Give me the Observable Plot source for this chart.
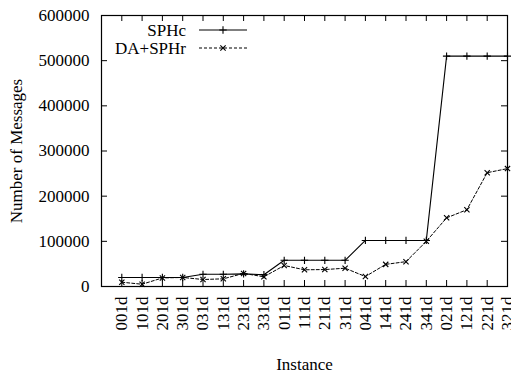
<!DOCTYPE html>
<html><head><meta charset="utf-8">
<script src="https://cdn.jsdelivr.net/npm/d3@7"></script>
<script src="https://cdn.jsdelivr.net/npm/@observablehq/plot@0.6"></script>
<style>
body{margin:0;background:#fff;}
#chart{position:relative;width:511px;height:378px;}
#legend{position:absolute;left:0;top:0;}
</style></head><body><div id="chart"></div>
<script>
const instances = ["001d","101d","201d","301d","031d","131d","231d","331d","011d","111d","211d","311d","041d","141d","241d","341d","021d","121d","221d","321d"];
const sphc =   [20000,20000,20000,20000,27000,27000,28000,26000,58000,58000,58000,58000,102000,102000,102000,102000,510000,510000,510000,510000];
const dasphr = [9500,5000,19000,20000,15500,17000,29000,21500,46500,37000,37500,40500,22000,49000,55000,100000,152000,170000,252000,261000];
const yTicks = [0,100000,200000,300000,400000,500000,600000];
const seriesNames = ["SPHc","DA+SPHr"];

const idx = instances.map((_, i) => i);
const rowsA = idx.map(i => ({i, v: sphc[i]}));
const rowsB = idx.map(i => ({i, v: dasphr[i]}));

const W = 511, H = 378, mL = 101, mR = 4, mT = 15, mB = 92;
const iw = W - mL - mR, ih = H - mT - mB, tk = 6;
const font = "Liberation Serif, Times New Roman, serif";

const chart = Plot.plot({
  width: W, height: H,
  marginLeft: mL, marginRight: mR, marginTop: mT, marginBottom: mB,
  style: {fontFamily: font, fontSize: "17px", color: "#000", background: "#fff"},
  x: {type: "linear", domain: [-1, instances.length - 1]},
  y: {domain: [0, 600000]},
  marks: [
    Plot.axisX(idx, {anchor: "bottom", tickSize: 0, tickPadding: 10, tickRotate: -90,
      tickFormat: i => instances[i], fontSize: 17,
      label: "Instance", labelAnchor: "center", labelOffset: 83, labelArrow: "none"}),
    Plot.axisY(yTicks, {anchor: "left", tickSize: 0, tickPadding: 12, tickFormat: d => String(d), fontSize: 17,
      label: "Number of Messages", labelAnchor: "center", labelOffset: 92, labelArrow: "none"}),
    Plot.tickX(idx, {x: d => d, insetTop: ih - tk, stroke: "#000"}),
    Plot.tickX(idx, {x: d => d, insetBottom: ih - tk, stroke: "#000"}),
    Plot.tickY(yTicks, {y: d => d, insetRight: iw - tk, stroke: "#000"}),
    Plot.tickY(yTicks, {y: d => d, insetLeft: iw - tk, stroke: "#000"}),
    Plot.line(rowsB, {x: "i", y: "v", stroke: "#000", strokeWidth: 1, strokeDasharray: "3,2"}),
    Plot.dot(rowsB, {x: "i", y: "v", symbol: "times", r: 2.5, stroke: "#000", strokeWidth: 1.1}),
    Plot.line(rowsA, {x: "i", y: "v", stroke: "#000", strokeWidth: 1.1}),
    Plot.dot(rowsA, {x: "i", y: "v", symbol: "plus", r: 2.5, stroke: "#000", strokeWidth: 1.1}),
    Plot.frame({stroke: "#000", strokeWidth: 1.2})
  ]
});
const host = document.getElementById("chart");
host.appendChild(chart);

// legend overlay
const lg = d3.select(host).append("svg").attr("id", "legend").attr("width", W).attr("height", 70)
  .style("font-family", font).style("font-size", "17px");
const items = [
  {name: seriesNames[0], dash: null, sym: d3.symbolPlus, y: 30},
  {name: seriesNames[1], dash: "3,2", sym: d3.symbolTimes, y: 48}
];
items.forEach(it => {
  lg.append("text").attr("x", 186).attr("y", it.y).attr("dy", "0.35em").attr("text-anchor", "end").text(it.name);
  lg.append("line").attr("x1", 199).attr("x2", 247).attr("y1", it.y).attr("y2", it.y)
    .attr("stroke", "#000").attr("stroke-width", 1.1).attr("stroke-dasharray", it.dash);
  lg.append("path").attr("d", d3.symbol(it.sym, 20)()).attr("transform", `translate(223,${it.y})`)
    .attr("fill", "none").attr("stroke", "#000").attr("stroke-width", 1.1);
});
</script></body></html>
